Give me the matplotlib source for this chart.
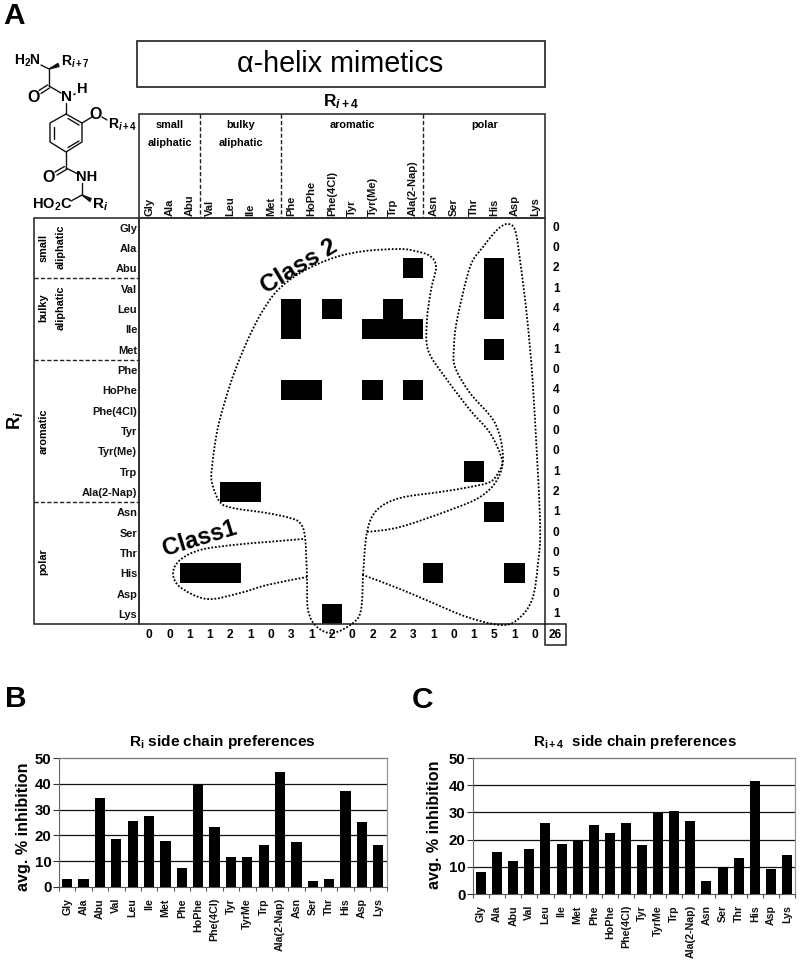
import numpy as np
import matplotlib
matplotlib.use("Agg")
import matplotlib.pyplot as plt
from matplotlib.path import Path
from matplotlib.patches import PathPatch, Rectangle, Polygon

plt.rcParams['font.family'] = ['Liberation Sans', 'DejaVu Sans']
plt.rcParams['mathtext.fontset'] = 'custom'
plt.rcParams['mathtext.rm'] = 'Liberation Sans:bold'
plt.rcParams['mathtext.bf'] = 'Liberation Sans:bold'
plt.rcParams['mathtext.it'] = 'Liberation Sans:bold:italic'
plt.rcParams['mathtext.default'] = 'rm'

# ---------- data ----------
matrix_labels = ['Gly', 'Ala', 'Abu', 'Val', 'Leu', 'Ile', 'Met', 'Phe', 'HoPhe', 'Phe(4Cl)', 'Tyr',
                 'Tyr(Me)', 'Trp', 'Ala(2-Nap)', 'Asn', 'Ser', 'Thr', 'His', 'Asp', 'Lys']
bar_labels = ['Gly', 'Ala', 'Abu', 'Val', 'Leu', 'Ile', 'Met', 'Phe', 'HoPhe', 'Phe(4Cl)', 'Tyr',
              'TyrMe', 'Trp', 'Ala(2-Nap)', 'Asn', 'Ser', 'Thr', 'His', 'Asp', 'Lys']
# hits: R_i row -> R_i+4 columns
hits = {
    'Abu': ['Ala(2-Nap)', 'His'],
    'Val': ['His'],
    'Leu': ['Phe', 'Phe(4Cl)', 'Trp', 'His'],
    'Ile': ['Phe', 'Tyr(Me)', 'Trp', 'Ala(2-Nap)'],
    'Met': ['His'],
    'HoPhe': ['Phe', 'HoPhe', 'Tyr(Me)', 'Ala(2-Nap)'],
    'Trp': ['Thr'],
    'Ala(2-Nap)': ['Leu', 'Ile'],
    'Asn': ['His'],
    'His': ['Abu', 'Val', 'Leu', 'Asn', 'Asp'],
    'Lys': ['Phe(4Cl)'],
}
row_totals = [0, 0, 2, 1, 4, 4, 1, 0, 4, 0, 0, 0, 1, 2, 1, 0, 0, 5, 0, 1]
col_totals = [0, 0, 1, 1, 2, 1, 0, 3, 1, 2, 0, 2, 2, 3, 1, 0, 1, 5, 1, 0]
grand_total = 26
group_breaks = [3, 7, 14]
ri_values = [3.2, 3.2, 34.5, 18.5, 25.5, 27.5, 18.0, 7.5, 40.0, 23.3, 11.5, 11.5, 16.2, 44.7, 17.5, 2.5,
             3.2, 37.3, 25.2, 16.2]
ri4_values = [8.0, 15.3, 12.0, 16.7, 26.0, 18.5, 20.0, 25.5, 22.5, 26.0, 18.0, 29.7, 30.5, 27.0, 4.7, 10.0,
              13.2, 41.7, 9.2, 14.3]

W, H = 800, 961
fig = plt.figure(figsize=(W / 100, H / 100), dpi=100, facecolor='white')


def px_axes(x0, y0, x1, y1, **kw):
    return fig.add_axes([x0 / W, 1 - y1 / H, (x1 - x0) / W, (y1 - y0) / H], **kw)


# ---------- matrix ----------
EDGE = '#303030'
ax = px_axes(139, 217.5, 545, 624)
grid = np.zeros((20, 20))
for r, cols in hits.items():
    for c in cols:
        grid[matrix_labels.index(r), matrix_labels.index(c)] = 1
ax.pcolormesh(np.arange(21), np.arange(21), grid, cmap='binary', vmin=0, vmax=1)
ax.set_xlim(0, 20)
ax.set_ylim(20, 0)
ax.xaxis.tick_top()
ax.set_xticks(np.arange(20) + 0.5)
ax.set_xticklabels(matrix_labels, rotation=90, fontsize=8.0, fontweight='bold', color='#111111')
ax.set_yticks(np.arange(20) + 0.5)
ax.set_yticklabels(matrix_labels, fontsize=7.9, fontweight='bold', color='#111111')
ax.tick_params(length=0, pad=1.2)
for lab in ax.get_xticklabels():
    lab.set_verticalalignment('bottom')
for s in ax.spines.values():
    s.set_color(EDGE)
    s.set_linewidth(1.2)
for i, v in enumerate(row_totals):
    ax.text(20.55, i + 0.5, str(v), ha='center', va='center', fontsize=8.6, fontweight='bold', clip_on=False)
for i, v in enumerate(col_totals):
    ax.text(i + 0.5, 20.52, str(v), ha='center', va='center', fontsize=8.6, fontweight='bold', clip_on=False)
ax.text(20.52, 20.52, str(grand_total), ha='center', va='center', fontsize=8.6, fontweight='bold', clip_on=False)


# ---------- bar charts ----------
def bar_chart(box, values, ):
    b = px_axes(*box)
    x = np.arange(len(values))
    b.bar(x, values, width=0.62, color='black', zorder=3)
    b.set_xlim(-0.5, len(values) - 0.5)
    b.set_ylim(0, 50)
    b.set_yticks(range(0, 51, 10))
    b.set_xticks(x)
    b.set_xticklabels(bar_labels, rotation=90, fontsize=7.7, fontweight='bold', color='#111111')
    b.set_xticks(np.arange(len(values) + 1) - 0.5, minor=True)
    b.tick_params(axis='x', which='major', length=0, pad=8)
    b.tick_params(axis='x', which='minor', length=3, width=0.8, color='#555555')
    b.tick_params(axis='y', length=4, width=0.8, color='#333333', pad=1.5, labelsize=10.8)
    for lab in b.get_yticklabels():
        lab.set_fontweight('bold')
    for yy in (10, 20, 30, 40):
        b.axhline(yy, color='#111111', lw=0.9, zorder=1)
    b.spines['top'].set_color('#777777')
    b.spines['right'].set_color('#999999')
    b.spines['left'].set_color('#666666')
    b.spines['bottom'].set_color('#555555')
    b.spines['top'].set_linewidth(0.9)
    b.spines['right'].set_linewidth(0.9)
    return b


bar_chart((59, 758, 386.5, 887), ri_values)
bar_chart((473, 758, 795, 894), ri4_values)

# ---------- overlay in pixel coordinates ----------
ov = fig.add_axes([0, 0, 1, 1], facecolor='none', zorder=10)
ov.set_xlim(0, W)
ov.set_ylim(H, 0)
ov.axis('off')


def T(x, y, s, size=8, weight='bold', rot=0, ha='center', va='center', **kw):
    ov.text(x, y, s, fontsize=size, fontweight=weight, rotation=rot, ha=ha, va=va,
            rotation_mode='anchor' if rot not in (0, 90) else 'default', **kw)


def L(xs, ys, lw=1.1, color='#202020', **kw):
    ov.plot(xs, ys, color=color, lw=lw, solid_capstyle='round', **kw)


def spline(points, closed=False):
    """Smooth curve through outline points, as cubic Bezier pieces."""
    p = np.array(points, float)
    n = len(p)
    verts, codes = [p[0]], [Path.MOVETO]
    for i in range(n - 1 + (1 if closed else 0)):
        p1, p2 = p[i % n], p[(i + 1) % n]
        p0 = p[(i - 1) % n] if (closed or i > 0) else p1
        p3 = p[(i + 2) % n] if (closed or i + 2 < n) else p2
        verts += [p1 + (p2 - p0) / 6, p2 - (p3 - p1) / 6, p2]
        codes += [Path.CURVE4] * 3
    return PathPatch(Path(verts, codes), fill=False, ec='black', lw=1.3, ls=(0, (1, 1)), zorder=6)


class2 = [(363, 575), (367, 532), (377, 510), (400, 498), (440, 492), (470, 487), (490, 482), (498, 473),
          (502, 460), (490, 433), (470, 410), (445, 377), (428, 350), (427, 320), (431, 290), (436, 267),
          (430, 256), (415, 251), (400, 249), (365, 251), (333, 258), (300, 273), (277, 291), (262, 312),
          (250, 335), (240, 358), (230, 385), (218, 427), (212, 467), (212, 483), (220, 502), (233, 508), (267, 513),
          (290, 518), (300, 523), (305, 537), (307, 577), (308, 610), (317, 627), (333, 633), (353, 623),
          (361, 610), (363, 575)]
class3 = [(367, 532), (400, 527), (450, 510), (480, 497), (497, 480), (503, 457), (495, 423), (470, 393),
          (455, 367), (454, 347), (457, 320), (470, 267), (483, 247), (497, 230), (507, 224), (515, 230),
          (520, 260), (527, 317), (533, 387), (540, 520), (538, 563), (532, 600), (517, 620), (500, 625),
          (467, 617), (433, 603), (400, 589), (363, 575)]
class1 = [(303, 539), (267, 542), (233, 545), (200, 550), (180, 560), (173, 573), (180, 587), (207, 599),
          (240, 593), (267, 585), (307, 577)]
for c in (class2, class3, class1):
    ov.add_patch(spline(c))
T(299, 267, 'Class 2', size=17.5, rot=31)
T(200, 539, 'Class1', size=17, rot=17)

# frames
ov.add_patch(Rectangle((137, 40.5), 407.5, 46.5, fill=False, ec='#202020', lw=1.2))
T(340.5, 64, '\u03b1-helix mimetics', size=20.7, weight='normal', family=['Liberation Sans', 'DejaVu Sans'])
ov.add_patch(Rectangle((139, 114), 406, 103.5, fill=False, ec=EDGE, lw=1.2))
ov.add_patch(Rectangle((33.5, 217.5), 105.5, 406.5, fill=False, ec=EDGE, lw=1.2))
ov.add_patch(Rectangle((545, 624), 21, 20.5, fill=False, ec='#202020', lw=1.1))
for k in group_breaks:
    xb = 139 + k * 406 / 20
    L([xb, xb], [114, 217], lw=1.0, ls=(0, (3, 1.6)))
    yb = 217.5 + k * 406.5 / 20
    L([33.5, 139], [yb, yb], lw=1.0, ls=(0, (3, 1.6)))

# group names
T(170, 125, 'small', size=7.8)
T(170, 143, 'aliphatic', size=7.8)
T(241, 125, 'bulky', size=7.8)
T(241, 143, 'aliphatic', size=7.8)
T(352, 125, 'aromatic', size=7.8)
T(485, 125, 'polar', size=7.8)
T(43.5, 248, 'small', size=7.8, rot=90)
T(60.5, 247, 'aliphatic', size=7.8, rot=90)
T(43.5, 308, 'bulky', size=7.8, rot=90)
T(60.5, 308, 'aliphatic', size=7.8, rot=90)
T(43.5, 431, 'aromatic', size=7.8, rot=90)
T(43.5, 562, 'polar', size=7.8, rot=90)

T(341, 102, r'R$_{\mathit{i+4}}$', size=12.5)
T(15, 421, r'R$_{\mathit{i}}$', size=13, rot=90)

# panel letters
T(3, 16, 'A', size=21.5, ha='left')
T(5, 699, 'B', size=21.5, ha='left')
T(412, 700, 'C', size=21.5, ha='left')

# bar titles
T(222, 742, r'R$_{\mathrm{i}}$ side chain preferences', size=11.1)
T(635, 742, r'R$_{\mathrm{i+4}}$  side chain preferences', size=10.9)
T(24, 827, 'avg. % inhibition', size=11.6, rot=90)
T(435, 825, 'avg. % inhibition', size=11.6, rot=90)

# ---------- chemical structure ----------
CH = '#101010'
S = dict(lw=1.0, color=CH)
L([41, 49], [65, 69], **S)
L([49, 49], [69, 86], **S)
L([47.5, 39], [85, 90.5], **S)
L([49.5, 41], [88, 93.5], **S)
L([49, 61], [86, 93], **S)
L([66, 66], [103, 114], **S)
hx = [66, 82, 82, 66, 50, 50, 66]
hy = [114, 123, 142, 152, 142, 123, 114]
L(hx, hy, **S)
L([54, 54], [127, 139], **S)
L([68, 79], [118.5, 125], **S)
L([68, 79], [147.5, 141], **S)
L([82, 92], [123, 117], **S)
L([102, 107], [117, 120], **S)
L([74, 75], [94.5, 94], lw=1.2, color=CH)
L([66, 66], [152, 168], **S)
L([64.5, 55], [166.5, 172], **S)
L([66.5, 57], [169.5, 175], **S)
L([66, 78], [168, 174], **S)
L([82, 82], [183, 195], **S)
L([82, 71], [195, 201], **S)
ov.add_patch(Polygon([(49, 69), (58, 63.5), (59, 66.5)], closed=True, color=CH))
ov.add_patch(Polygon([(82, 195), (91, 198.5), (90, 201.5)], closed=True, color=CH))

T(14.5, 61, r'H$_{\mathrm{2}}$N', size=10, ha='left')
T(61, 62, r'R$_{\mathit{i+7}}$', size=10, ha='left')
T(34, 97, 'O', size=11.5)
T(66, 97, 'N', size=11)
T(82, 89, 'H', size=10.5)
T(96, 114.5, 'O', size=11.5)
T(107.5, 125, r'R$_{\mathit{i+4}}$', size=10, ha='left')
T(49, 177, 'O', size=11.5)
T(87, 177, 'NH', size=10.5)
T(52.5, 205, r'HO$_{\mathrm{2}}$C', size=10.5)
T(92, 205, r'R$_{\mathit{i}}$', size=11, ha='left')

fig.savefig('out.png', dpi=100, facecolor='white')
